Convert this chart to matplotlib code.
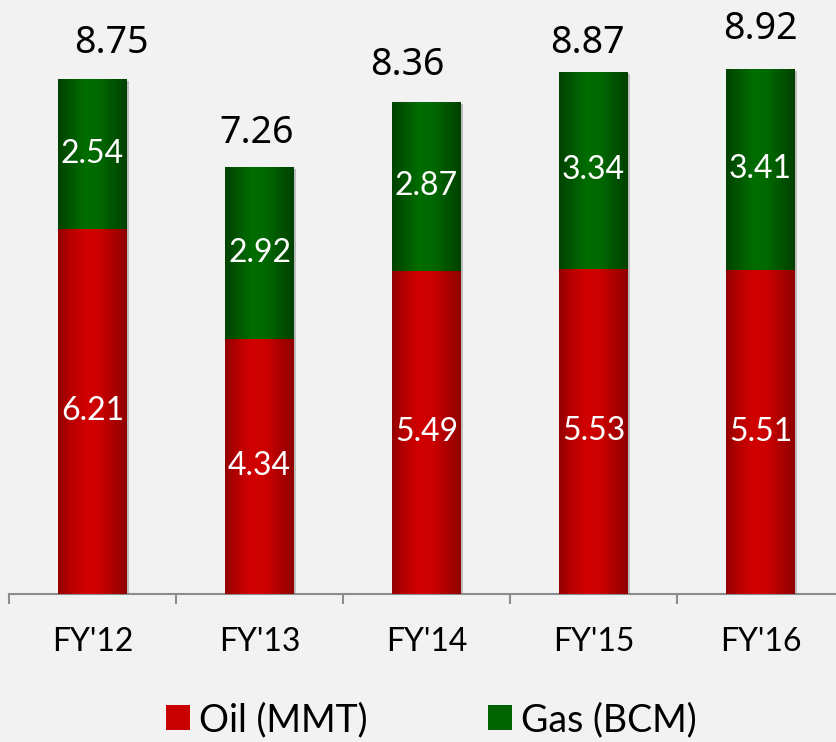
import matplotlib
matplotlib.use("Agg")
import matplotlib.pyplot as plt
import numpy as np
from matplotlib.patches import Patch
from matplotlib.colors import LinearSegmentedColormap
import matplotlib.patheffects as pe

categories = ["FY'12", "FY'13", "FY'14", "FY'15", "FY'16"]
oil = [6.21, 4.34, 5.49, 5.53, 5.51]
gas = [2.54, 2.92, 2.87, 3.34, 3.41]
totals = [8.75, 7.26, 8.36, 8.87, 8.92]
series_names = ["Oil (MMT)", "Gas (BCM)"]

# manual nudges of the total labels (pixels), as placed in the original
total_dx_px = [19, -3, -19, -6, 0]
total_gap_px = [26, 24, 27, 19, 30]

BG = "#F2F2F2"
W, H = 837, 742
PX2PT = 72 / 100
fig = plt.figure(figsize=(W / 100, H / 100), dpi=100, facecolor=BG)
ax = fig.add_axes([9 / W, 148 / H, 835 / W, 594 / H])
ax.set_facecolor(BG)

label_font = ["Lato", "DejaVu Sans"]
total_font = ["Noto Sans", "DejaVu Sans"]

x = np.arange(len(categories))
bw = 0.41
red_cmap = LinearSegmentedColormap.from_list(
    "r", ["#940000", "#BA0000", "#D20000", "#CC0000", "#AC0000", "#900000"])
green_cmap = LinearSegmentedColormap.from_list(
    "g", ["#004200", "#005800", "#006E00", "#006800", "#005400", "#004000"])
grad = np.linspace(0, 1, 256).reshape(1, -1)

shadow = [pe.SimplePatchShadow(offset=(1.5, -1.5), shadow_rgbFace="#9A9A9A", alpha=0.6), pe.Normal()]
bars_oil = ax.bar(x, oil, width=bw, color="#CC0000", linewidth=0, zorder=2,
                  path_effects=shadow)
bars_gas = ax.bar(x, gas, width=bw, bottom=oil, color="#006600", linewidth=0, zorder=2,
                  path_effects=shadow)

for bars, cmap in ((bars_oil, red_cmap), (bars_gas, green_cmap)):
    for b in bars:
        x0, y0 = b.get_x(), b.get_y()
        im = ax.imshow(grad, cmap=cmap, aspect="auto", zorder=3,
                       extent=(x0, x0 + b.get_width(), y0, y0 + b.get_height()),
                       interpolation="bilinear")
        im.set_clip_path(b)

for i in range(len(categories)):
    ax.text(x[i], oil[i] / 2, f"{oil[i]:.2f}", ha="center", va="center",
            color="white", fontsize=23, family=label_font, zorder=5)
    ax.text(x[i], oil[i] + gas[i] / 2, f"{gas[i]:.2f}", ha="center", va="center",
            color="white", fontsize=23, family=label_font, zorder=5)
    ax.annotate(f"{totals[i]:.2f}", (x[i], oil[i] + gas[i]),
                xytext=(total_dx_px[i] * PX2PT, total_gap_px[i] * PX2PT),
                textcoords="offset points", ha="center", va="baseline",
                fontsize=27, family=total_font, color="black", zorder=5)

ax.set_xlim(-0.5, len(categories) - 0.5)
ax.set_ylim(0, 594 / 58.85)

for s in ("top", "right", "left"):
    ax.spines[s].set_visible(False)
ax.spines["bottom"].set_color("#8C8C8C")
ax.spines["bottom"].set_linewidth(1.5)
ax.set_yticks([])
ax.set_xticks(x)
ax.set_xticklabels(categories, fontsize=23, family=label_font)
ax.tick_params(axis="x", which="major", length=0, pad=24)
ax.set_xticks(np.arange(len(categories) + 1) - 0.5, minor=True)
ax.tick_params(axis="x", which="minor", length=7.5, width=1.5, color="#8C8C8C")

handles = [Patch(facecolor="#C80000", edgecolor="none"),
           Patch(facecolor="#006400", edgecolor="none")]
fig.legend(handles, series_names, loc="center", bbox_to_anchor=(0.5155, 0.0296),
           ncol=2, frameon=False, prop={"family": label_font, "size": 27},
           handlelength=0.64, handleheight=0.64, handletextpad=0.24,
           columnspacing=3.2, borderpad=0.2)

fig.savefig("out.png", dpi=100, facecolor=BG)
